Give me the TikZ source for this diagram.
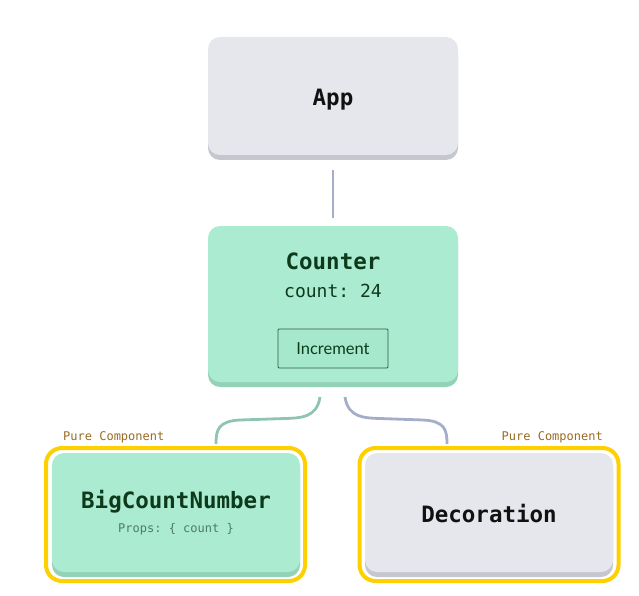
\documentclass[tikz,border=0pt]{standalone}
\usepackage{fontspec}
\setmainfont{Lato}
\setmonofont{DejaVu Sans Mono}
\definecolor{graybox}{HTML}{E6E7EC}
\definecolor{grayshadow}{HTML}{C5C7CF}
\definecolor{greenbox}{HTML}{ABEBD2}
\definecolor{greenshadow}{HTML}{93D2B7}
\definecolor{darkgreen}{HTML}{0E3A1C}
\definecolor{darktext}{HTML}{111111}
\definecolor{pureyellow}{HTML}{FFD000}
\definecolor{purelabel}{HTML}{9A6A20}
\definecolor{propsgray}{HTML}{4E7A66}
\definecolor{linkgreen}{HTML}{8FC4B4}
\definecolor{linkgray}{HTML}{A4AEC8}
\definecolor{btnborder}{HTML}{2E5C45}
\definecolor{btnfill}{HTML}{A6E8CC}
\begin{document}
\begin{tikzpicture}[x=1pt,y=-1pt,
  box/.style={rounded corners=12pt, minimum width=250pt, inner sep=0pt},
  framebox/.style={draw=pureyellow, line width=4pt, rounded corners=16pt, fill=white, minimum width=259pt, minimum height=133pt, inner sep=0pt},
  title/.style={font=\ttfamily\bfseries\fontsize{22.5}{25}\selectfont},
  small/.style={font=\ttfamily\fontsize{12}{14}\selectfont},
  link/.style={line width=2.8pt}
]
\useasboundingbox (0,0) rectangle (639,596);
% App
\node[box, fill=grayshadow, minimum height=118pt] (appshadow) at (333,101) {};
\node[box, fill=graybox, minimum height=118pt] (app) at (333,96) {};
\node[title, text=darktext] (applabel) at (333,100) {App};
% Counter
\node[box, fill=greenshadow, minimum height=156pt] (countershadow) at (333,309) {};
\node[box, fill=greenbox, minimum height=156pt] (counter) at (333,304) {};
\node[title, text=darkgreen] (counterlabel) at (333,261) {Counter};
\node[font=\ttfamily\fontsize{18}{21}\selectfont, text=darkgreen] (countval) at (333,291) {count: 24};
\node[draw=btnborder, fill=btnfill, line width=0.8pt, rounded corners=1pt, minimum width=110pt, minimum height=39pt, inner sep=0pt, font=\fontsize{16.5}{19}\selectfont, text=darkgreen] (btn) at (333,348.5) {Increment};
% App -> Counter
\coordinate (a1) at (333,170);
\coordinate (a2) at (333,218);
\draw[link, draw=linkgray, line width=2.4pt] (a1) -- (a2);
% BigCountNumber
\node[framebox] (bigframe) at (175.5,514.5) {};
\node[box, minimum width=248pt, fill=greenshadow, minimum height=119pt] (bigshadow) at (176,517.5) {};
\node[box, minimum width=248pt, fill=greenbox, minimum height=119pt] (big) at (176,512.5) {};
\node[title, text=darkgreen] (biglabel) at (176,502) {BigCountNumber};
\node[small, text=propsgray] (props) at (176,529) {Props: \{ count \}};
\node[small, text=purelabel, anchor=west, inner sep=0pt] (pure1) at (63,437) {Pure Component};
% Decoration
\node[framebox] (decframe) at (489,514.5) {};
\node[box, minimum width=248pt, fill=grayshadow, minimum height=119pt] (decshadow) at (489,517.5) {};
\node[box, minimum width=248pt, fill=graybox, minimum height=119pt] (dec) at (489,512.5) {};
\node[title, text=darktext] (declabel) at (489,514) {Decoration};
\node[small, text=purelabel, anchor=east, inner sep=0pt] (pure2) at (603,437) {Pure Component};
% Counter -> children
\coordinate (l1) at (320,397);
\coordinate (l2) at (216,444);
\coordinate (r1) at (345,397);
\coordinate (r2) at (447,444);
\draw[link, draw=linkgreen] (l1) .. controls (317,418) and (300,418) .. (285,418.5) -- (240,420) .. controls (218,421) and (216,430) .. (l2);
\draw[link, draw=linkgray] (r1) .. controls (348,418) and (365,418) .. (380,418.5) -- (423,420) .. controls (445,421) and (447,430) .. (r2);
\end{tikzpicture}
\end{document}
